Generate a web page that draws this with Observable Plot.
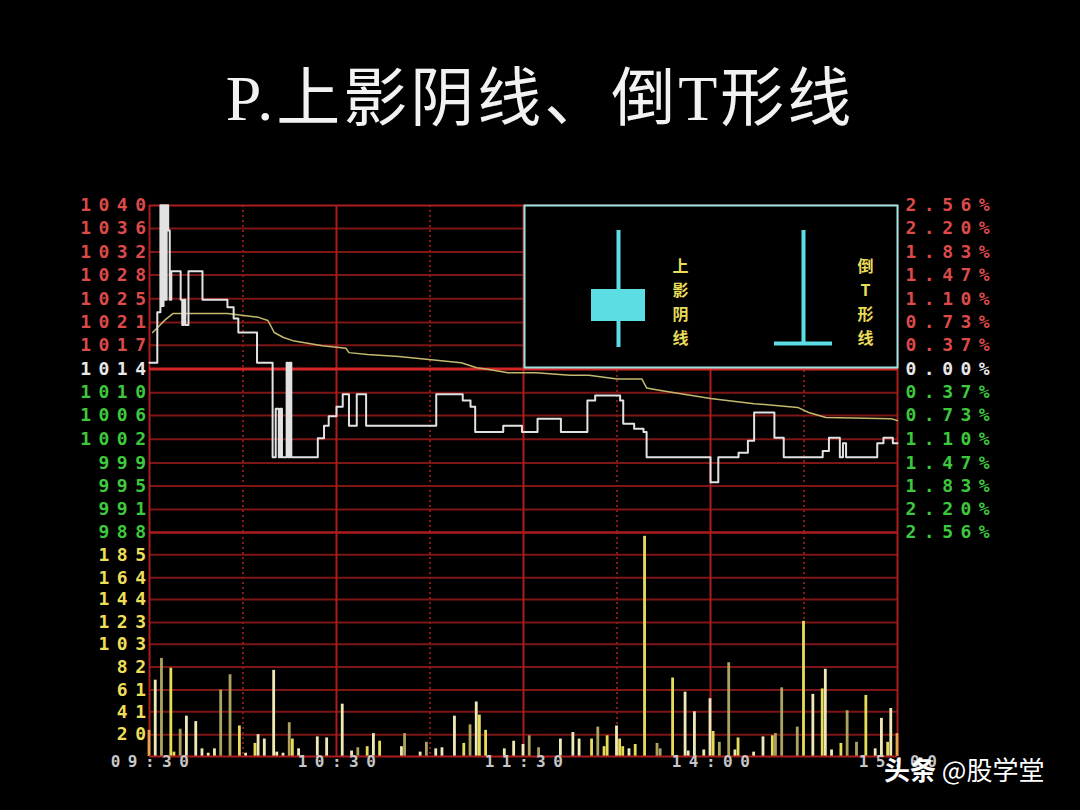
<!DOCTYPE html>
<html><head><meta charset="utf-8">
<script src="https://cdn.jsdelivr.net/npm/d3@7"></script>
<script src="https://cdn.jsdelivr.net/npm/@observablehq/plot@0.6"></script>
<style>
html,body{margin:0;padding:0;background:#000;}
#root{position:relative;width:1080px;height:810px;overflow:hidden;background:#000;}
#title{position:absolute;left:0;top:67px;width:1080px;text-align:center;color:#f2f2f2;font-family:"Liberation Serif","Noto Sans CJK SC",serif;font-size:64px;letter-spacing:3px;line-height:1;white-space:nowrap;}
.abs{position:absolute;}
.ax text{letter-spacing:7.5px;}
#wm{position:absolute;left:884px;top:755px;color:#fff;font-family:"Noto Sans CJK SC",sans-serif;font-size:26px;line-height:1.1;white-space:nowrap;}
</style></head><body>
<div id="root">
<div id="title">P.上影阴线、倒T形线</div>
<div id="price" class="abs" style="left:0;top:190px"></div>
<div id="vol" class="abs" style="left:0;top:522px"></div>
<div id="inset" class="abs" style="left:522px;top:203px"></div>
<div id="wm"><b>头条</b> @股学堂</div>
</div>
<script>
// ---- data ----
const base = 1014;
const pctTicks = [2.56, 2.20, 1.83, 1.47, 1.10, 0.73, 0.37, 0, -0.37, -0.73, -1.10, -1.47, -1.83, -2.20, -2.56];
const priceLabels = ["1040","1036","1032","1028","1025","1021","1017","1014","1010","1006","1002","999","995","991","988"];
const pctLabels = ["2.56%","2.20%","1.83%","1.47%","1.10%","0.73%","0.37%","0.00%","0.37%","0.73%","1.10%","1.47%","1.83%","2.20%","2.56%"];
const volTicks = [185, 164, 144, 123, 103, 82, 61, 41, 20];
const timeTicks = [0, 60, 120, 180, 240];
const timeLabels = ["09:30", "10:30", "11:30", "14:00", "15:00"];
const halfHours = [30, 90, 150, 210];

const priceMin = [0,2.5,3.5,4,4.5,5,5.5,6,6.5,7,10,10.5,11,11.5,12.5,17,25,27,28.5,34.5,39.5,40.5,41.5,42,42.5,44,44.5,45,45.5,54,56,57.5,60,62,64,66.5,69.5,92,100.5,103,104.5,113.5,119.5,124.5,132,140.5,143,151,152,155.5,158.5,159.5,180,182.5,189,192,194,200.5,203.5,216,218,221.5,222.5,223.5,233.5,235.5,238.5,240];
const priceVal = [1015,1023,1040,1024,1040,1025,1040,1036,1025,1029.5,1025,1021,1025,1021,1029.5,1025,1023.8,1022,1019.8,1015,1000,1007.7,1000,1007.7,1000,1015,1000,1015,1000,1003,1005,1006.5,1008,1010,1005,1010,1005,1010,1009,1008,1004,1005,1004,1006.1,1004,1009,1009.8,1009,1005.3,1004.5,1004,1000,996,1000,1000.7,1002.6,1007.1,1003.1,1000,1001,1003.1,1000,1002.2,1000,1002.2,1003.1,1002.2,1002.2];

const avgMin = [1,3,5,7.5,25,35,38,40,43,46,55.5,63,64,70,80,92,100,105,108,115,124,135,141,150,158,159.5,164,170,180,194,208,211.5,217,238,240];
const avgVal = [1019.8,1020.8,1021.8,1022.8,1022.8,1022.2,1021.7,1019.8,1019,1018.5,1017.7,1017.3,1016.6,1016.3,1016,1015.4,1015,1014.2,1014,1013.4,1013.4,1013,1013,1012.4,1012.4,1011,1010.6,1010.1,1009.3,1008.5,1007.9,1007.1,1006.3,1006.1,1005.8];

const volMin = [0,2,4,7,8,10,12,15,17,19,21,23,26,29,31,34,35,37,40,41,43,45,46,48,54,57,62,65,67,70,72,74,81,82,87,89,92,94,98,101,103,105,106,108,114,117,120,122,125,132,136,138,142,144,146,147,150,151,152,154,156,159,163,164,168,172,173,175,178,180,181,183,186,188,189,194,197,200,201,203,208,210,213,216,217,219,222,224,227,230,233,235,237,238,240];
const volVal = [24,70,90,81,4,25,37,32,7,3,7,61,75,28,3,12,20,16,79,4,3,31,16,7,18,17,48,5,8,9,21,14,9,21,4,13,7,8,37,12,29,50,38,24,7,14,11,19,8,16,22,16,16,27,9,19,28,16,9,7,11,202,12,7,72,59,5,41,6,53,23,13,86,6,17,4,18,19,21,63,27,124,57,62,80,6,12,42,13,56,7,35,13,44,21];
const volKind = ["r","p","o","y","y","o","p","p","p","p","p","o","o","y","p","y","p","p","p","p","p","o","y","p","p","p","p","p","o","y","p","y","p","o","p","o","p","p","p","y","o","p","y","y","p","p","p","o","o","p","p","p","y","o","y","y","p","y","y","p","y","y","o","o","y","p","p","p","p","p","y","o","o","p","y","p","p","y","o","o","o","y","p","y","p","p","y","o","o","y","p","p","y","p","r"];

const candles = ["上影阴线", "倒T形线"];
const candleHigh = [13.7, 13.7];
const candleOpen = [7.8, 2.4];
const candleClose = [4.6, 2.4];
const candleLow = [2.0, 2.4];

// ---- styles ----
const gridDark = "#7e1616", gridSolid = "#ab1d1d", gridBright = "#d42626";
const labelFont = {fontFamily: "DejaVu Sans Mono", fontSize: 18, fontWeight: "bold"};
const pctY = p => base * (1 + p / 100);
const lblColor = p => p > 0 ? "#dc4a4a" : p < 0 ? "#3ec83e" : "#e8e8e8";

const pricePlot = Plot.plot({
  width: 1080, height: 352, marginTop: 15, marginBottom: 10, marginLeft: 149, marginRight: 183,
  className: "ax",
  x: {domain: [0, 240], axis: null},
  y: {domain: [pctY(-2.56), pctY(2.56)], axis: null},
  color: {type: "identity"},
  style: {background: "none", overflow: "visible"},
  marks: [
    Plot.ruleY(pctTicks.filter(p => p !== 0 && Math.abs(p) !== 2.56), {y: pctY, stroke: gridDark, strokeWidth: 2}),
    Plot.ruleX(halfHours, {x: d => d, stroke: "#8a1818", strokeWidth: 2, strokeDasharray: "2,3"}),
    Plot.ruleX([60, 120, 180], {x: d => d, stroke: gridSolid, strokeWidth: 2}),
    Plot.ruleX([0, 240], {x: d => d, stroke: gridSolid, strokeWidth: 2}),
    Plot.ruleY([2.56, -2.56], {y: pctY, stroke: gridSolid, strokeWidth: 2}),
    Plot.ruleY([0], {y: pctY, stroke: gridBright, strokeWidth: 3}),
    Plot.line(avgMin, {x: d => d, y: (d, i) => avgVal[i], stroke: "#c2b96e", strokeWidth: 1.5}),
    Plot.line(priceMin, {x: d => d, y: (d, i) => priceVal[i], curve: "step-after", stroke: "#e2e2e2", strokeWidth: 2}),
    Plot.text(pctTicks, {y: pctY, text: (d, i) => priceLabels[i], frameAnchor: "left", textAnchor: "end", dx: 4, fill: lblColor, ...labelFont}),
    Plot.text(pctTicks, {y: pctY, text: (d, i) => pctLabels[i], frameAnchor: "right", textAnchor: "start", dx: 8, fill: lblColor, ...labelFont})
  ]
});
document.getElementById("price").appendChild(pricePlot);

const volPlot = Plot.plot({
  width: 1080, height: 288, marginTop: 10, marginBottom: 54, marginLeft: 149, marginRight: 183,
  className: "ax",
  x: {domain: [0, 240], axis: null},
  y: {domain: [0, 205.5], axis: null},
  color: {domain: ["y", "p", "o", "r"], range: ["#e6dc5a", "#efe9b6", "#aba35f", "#e9a24e"]},
  style: {background: "none", overflow: "visible"},
  marks: [
    Plot.ruleY(volTicks, {y: d => d, stroke: gridDark, strokeWidth: 2}),
    Plot.ruleX(halfHours, {x: d => d, stroke: "#8a1818", strokeWidth: 2, strokeDasharray: "2,3"}),
    Plot.ruleX([60, 120, 180], {x: d => d, stroke: gridSolid, strokeWidth: 2}),
    Plot.ruleX([0, 240], {x: d => d, stroke: gridSolid, strokeWidth: 2}),
    Plot.ruleY([205.5], {y: d => d, stroke: gridSolid, strokeWidth: 2}),
    Plot.rect(volMin, {x1: d => d - 0.45, x2: d => d + 0.45, y1: 0, y2: (d, i) => volVal[i], fill: (d, i) => volKind[i]}),
    Plot.ruleY([0], {y: d => d, stroke: gridSolid, strokeWidth: 2}),
    Plot.text(volTicks, {y: d => d, text: d => String(d), frameAnchor: "left", textAnchor: "end", dx: 4, fill: "#eedf58", ...labelFont}),
    Plot.text(timeTicks, {x: d => d, text: (d, i) => timeLabels[i], frameAnchor: "bottom", dy: 10, dx: 4, fill: "#c6c6c6", fontFamily: "DejaVu Sans Mono", fontSize: 16, fontWeight: "bold"})
  ]
});
document.getElementById("vol").appendChild(volPlot);

const cyan = "#5cdde4";
const insetPlot = Plot.plot({
  width: 377, height: 166, marginTop: 2, marginBottom: 2, marginLeft: 2, marginRight: 2,
  x: {type: "band", domain: candles, paddingInner: 0.686, paddingOuter: 0.351, axis: null},
  y: {domain: [0, 16.2], axis: null},
  style: {background: "none", overflow: "visible"},
  marks: [
    Plot.frame({fill: "#000", stroke: "#9ee2e2", strokeWidth: 2}),
    Plot.ruleX(candles, {x: d => d, y1: (d, i) => candleLow[i], y2: (d, i) => candleHigh[i], stroke: cyan, strokeWidth: 4}),
    Plot.barY(candles, {x: d => d, y1: (d, i) => candleClose[i], y2: (d, i) => candleOpen[i], fill: cyan, insetLeft: 2, insetRight: 2}),
    Plot.tickY(candles, {x: d => d, y: (d, i) => candleLow[i], filter: (d, i) => candleOpen[i] === candleClose[i] && candleOpen[i] === candleLow[i], stroke: cyan, strokeWidth: 4}),
    Plot.text(candles, {x: d => d, y: 6.7, text: d => d.split("").join("\n"), dx: 62, lineHeight: 1.5, fill: "#e8dc5a", fontSize: 16, fontWeight: "bold", fontFamily: "Noto Sans CJK SC"})
  ]
});
document.getElementById("inset").appendChild(insetPlot);
</script>
</body></html>
